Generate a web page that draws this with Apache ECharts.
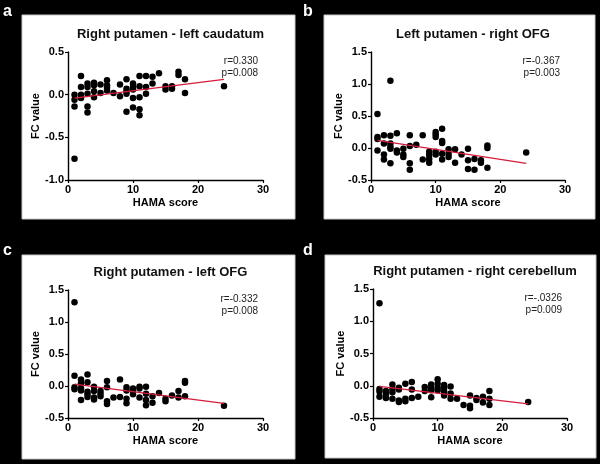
<!DOCTYPE html>
<html><head><meta charset="utf-8">
<script src="https://cdn.jsdelivr.net/npm/echarts@6/dist/echarts.min.js"></script>
<style>html,body{margin:0;padding:0;background:#000}#c{width:600px;height:464px}</style>
</head><body><div id="c"></div>
<script>
// ---- data ----
const panelLetters = ['a', 'b', 'c', 'd'];
const titles = ['Right putamen - left caudatum', 'Left putamen - right OFG', 'Right putamen - left OFG', 'Right putamen - right cerebellum'];
const statR = ['r=0.330', 'r=-0.367', 'r=-0.332', 'r=-.0326'];
const statP = ['p=0.008', 'p=0.003', 'p=0.008', 'p=0.009'];
const xTicks = [0, 10, 20, 30];
const yTicksA = [-1.0, -0.5, 0.0, 0.5];
const yTicksBCD = [-0.5, 0.0, 0.5, 1.0, 1.5];
const xName = 'HAMA score';
const yName = 'FC value';

const pointsA = [
  [1,0.0],[1,-0.06],[1,-0.14],[1,-0.75],
  [2,0.22],[2,0.09],[2,0.0],[2,-0.04],
  [3,0.13],[3,0.09],[3,0.01],[3,-0.14],[3,-0.21],
  [4,0.14],[4,0.11],[4,0.04],[4,-0.03],
  [5,0.12],[5,0.02],
  [6,0.17],[6,0.11],[6,0.08],[6,0.05],
  [7,0.02],
  [8,0.12],[8,-0.02],
  [9,0.18],[9,0.07],[9,0.04],[9,0.01],[9,-0.2],
  [10,0.13],[10,0.09],[10,0.06],[10,-0.04],[10,-0.15],
  [11,0.22],[11,0.1],[11,-0.03],[11,-0.17],[11,-0.24],
  [12,0.22],[12,0.09],[12,0.01],
  [13,0.21],[13,0.13],
  [14,0.25],
  [15,0.1],[15,0.06],
  [16,0.1],[16,0.07],
  [17,0.27],[17,0.23],
  [18,0.18],[18,0.02],
  [24,0.1]
];
const pointsB = [
  [1,0.53],[1,0.17],[1,0.14],[1,-0.04],
  [2,0.2],[2,0.07],[2,-0.1],[2,-0.18],
  [3,1.05],[3,0.19],[3,0.07],[3,0.02],[3,-0.01],[3,-0.24],
  [4,0.23],[4,-0.04],[4,-0.07],
  [5,-0.01],[5,-0.1],[5,-0.14],
  [6,0.2],[6,0.03],[6,-0.24],[6,-0.34],
  [7,0.05],
  [8,0.2],[8,-0.18],
  [9,-0.06],[9,-0.11],[9,-0.17],[9,-0.23],
  [10,0.25],[10,0.21],[10,0.17],[10,-0.06],[10,-0.1],
  [11,0.3],[11,0.11],[11,0.08],[11,-0.09],[11,-0.18],
  [12,-0.02],[12,-0.09],[12,-0.14],
  [13,-0.02],[13,-0.23],
  [14,-0.1],
  [15,-0.01],[15,-0.19],[15,-0.33],
  [16,-0.17],[16,-0.34],
  [17,-0.19],[17,-0.23],
  [18,0.04],[18,0.0],[18,-0.31],
  [24,-0.07]
];
const pointsC = [
  [1,1.31],[1,0.16],[1,-0.02],[1,-0.05],
  [2,0.1],[2,0.04],[2,-0.04],[2,-0.07],[2,-0.22],
  [3,0.18],[3,0.06],[3,-0.09],[3,-0.13],[3,-0.17],
  [4,-0.01],[4,-0.08],[4,-0.18],[4,-0.21],
  [5,-0.08],[5,-0.12],[5,-0.16],
  [6,0.08],[6,-0.02],[6,-0.24],[6,-0.28],
  [7,-0.18],
  [8,0.1],[8,-0.17],
  [9,-0.02],[9,-0.07],[9,-0.2],[9,-0.27],
  [10,-0.04],[10,-0.08],[10,-0.13],
  [11,-0.01],[11,-0.04],[11,-0.18],
  [12,-0.01],[12,-0.12],[12,-0.22],[12,-0.3],
  [13,-0.16],[13,-0.26],
  [14,-0.11],
  [15,-0.2],[15,-0.24],
  [16,-0.15],
  [17,-0.08],[17,-0.18],
  [18,0.08],[18,0.05],[18,-0.16],
  [24,-0.31]
];
const pointsD = [
  [1,1.28],[1,-0.05],[1,-0.09],[1,-0.17],
  [2,-0.08],[2,-0.13],[2,-0.19],
  [3,0.02],[3,-0.05],[3,-0.1],[3,-0.2],
  [4,-0.03],[4,-0.06],[4,-0.23],[4,-0.25],
  [5,0.03],[5,-0.2],[5,-0.24],
  [6,0.06],[6,-0.06],[6,-0.19],
  [7,-0.17],
  [8,-0.02],[8,-0.08],
  [9,0.02],[9,-0.03],[9,-0.07],[9,-0.18],
  [10,0.1],[10,0.03],[10,-0.03],[10,-0.07],
  [11,0.01],[11,-0.03],[11,-0.09],[11,-0.15],
  [12,-0.01],[12,-0.12],[12,-0.2],
  [13,-0.2],
  [14,-0.3],
  [15,-0.15],[15,-0.31],[15,-0.35],
  [16,-0.19],[16,-0.22],
  [17,-0.17],[17,-0.26],
  [18,-0.08],[18,-0.2],[18,-0.3],
  [24,-0.25]
];
const fitA = [[1,-0.04],[24,0.18]];
const fitB = [[1,0.12],[24,-0.24]];
const fitC = [[1,0.03],[24,-0.27]];
const fitD = [[1,-0.01],[24,-0.28]];

// ---- layout ----
const points = [pointsA, pointsB, pointsC, pointsD];
const fits = [fitA, fitB, fitC, fitD];
const yTickSets = [yTicksA, yTicksBCD, yTicksBCD, yTicksBCD];
const grids = [
  {left: 68, top: 52, width: 195, height: 128},
  {left: 371, top: 52, width: 194, height: 128},
  {left: 68, top: 290, width: 195, height: 128},
  {left: 373, top: 289, width: 194, height: 129}
];
const boxes = [
  {x: 22, y: 15, w: 273, h: 204},
  {x: 324, y: 15, w: 271, h: 204},
  {x: 22, y: 255, w: 273, h: 204},
  {x: 325, y: 255, w: 271, h: 203}
];
const letterPos = [[3, 20], [303, 20], [3, 259], [303, 259]];

const font = 'Arial, "Liberation Sans", sans-serif';
const option = {
  backgroundColor: '#000',
  animation: false,
  grid: grids.map(g => Object.assign({containLabel: false}, g)),
  xAxis: [], yAxis: [], series: [], graphic: [], title: []
};
for (let i = 0; i < 4; i++) {
  const b = boxes[i], g = grids[i];
  option.graphic.push({type: 'rect', z: -10, shape: {x: b.x, y: b.y, width: b.w, height: b.h},
    style: {fill: '#fff', stroke: '#c8c8c8', lineWidth: 1}});
  option.graphic.push({type: 'text', z: 10, x: letterPos[i][0], y: letterPos[i][1],
    style: {text: panelLetters[i], fill: '#fff', font: 'bold 16px ' + font, textVerticalAlign: 'bottom'}});
  option.graphic.push({type: 'text', z: 10, x: g.left + g.width - 5, y: g.top + 3,
    style: {text: statR[i] + '\n' + statP[i], fill: '#222', font: '10px ' + font, textAlign: 'right', lineHeight: 12}});
  option.title.push({text: titles[i], left: g.left + g.width / 2, top: g.top - 29, textAlign: 'center',
    textStyle: {fontFamily: font, fontWeight: 'bold', fontSize: 13, color: '#111'}});
  const yt = yTickSets[i];
  const axisCommon = {
    axisLine: {show: true, onZero: false, lineStyle: {color: '#000', width: 1.4}},
    axisTick: {show: true, inside: false, length: 3, lineStyle: {color: '#000', width: 1.2}},
    splitLine: {show: false},
    axisLabel: {color: '#000', fontFamily: font, fontWeight: 'bold', fontSize: 11, margin: 4},
    nameLocation: 'middle',
    nameTextStyle: {fontFamily: font, fontWeight: 'bold', fontSize: 11, color: '#000'}
  };
  option.xAxis.push(Object.assign({}, axisCommon, {
    gridIndex: i, type: 'value', min: xTicks[0], max: xTicks[xTicks.length - 1],
    interval: xTicks[1] - xTicks[0], name: xName, nameGap: 17
  }));
  option.yAxis.push(Object.assign({}, axisCommon, {
    gridIndex: i, type: 'value', min: yt[0], max: yt[yt.length - 1],
    interval: yt[1] - yt[0], name: yName, nameGap: 25, nameRotate: 90,
    axisLabel: Object.assign({}, axisCommon.axisLabel, {formatter: v => v.toFixed(1)})
  }));
  option.series.push({type: 'scatter', xAxisIndex: i, yAxisIndex: i, data: points[i],
    symbol: 'circle', symbolSize: 6.5, itemStyle: {color: '#000', opacity: 1}, z: 3});
  option.series.push({type: 'line', xAxisIndex: i, yAxisIndex: i, data: fits[i],
    symbol: 'none', lineStyle: {color: '#d41c3c', width: 1.3}, z: 4});
}
const chart = echarts.init(document.getElementById('c'), null, {renderer: 'canvas'});
chart.setOption(option);
</script></body></html>
